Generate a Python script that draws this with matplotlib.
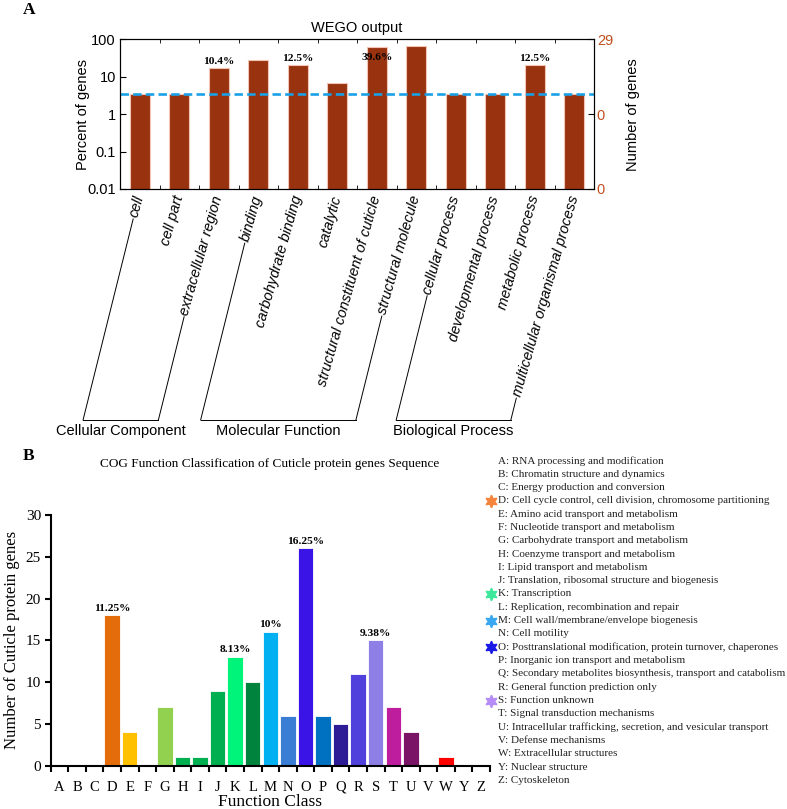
import numpy as np
import matplotlib
matplotlib.use("Agg")
import matplotlib.pyplot as plt
from matplotlib.lines import Line2D
from matplotlib.ticker import NullLocator

SANS = ['Liberation Sans', 'DejaVu Sans']
SERIF = ['Liberation Serif', 'DejaVu Serif']

# ---- panel A: WEGO output ----
go_terms = ['cell', 'cell part', 'extracellular region', 'binding',
            'carbohydrate binding', 'catalytic',
            'structural constituent of cuticle', 'structural molecule',
            'cellular process', 'developmental process', 'metabolic process',
            'multicellular organismal process']
go_counts = [1, 1, 5, 8, 6, 2, 18, 19, 1, 1, 6, 1]
go_total = 29
go_groups = [('Cellular Component', 0, 2),
             ('Molecular Function', 3, 7),
             ('Biological Process', 8, 11)]
go_notes = {2: '10.4%', 4: '12.5%', 6: '39.6%', 10: '12.5%'}

# ---- panel B: COG classes ----
cog_classes = list('ABCDEFGHIJKLMNOPQRSTUVWYZ')
cog_counts = [0, 0, 0, 18, 4, 0, 7, 1, 1, 9, 13, 10, 16, 6, 26, 6, 5, 11, 15,
              7, 4, 0, 1, 0, 0]
cog_colors = ['#C00000', '#FF0000', '#FFC000', '#E46C0A', '#FFC000', '#92D050',
              '#92D050', '#00B050', '#00B050', '#00B050', '#00F47A', '#00843D',
              '#00B0F0', '#3A7DD4', '#3A14E6', '#0070C0', '#2E1C96', '#5040DC',
              '#8C80E6', '#BE1E9E', '#7A1466', '#7030A0', '#FF0000', '#FF0000',
              '#FF0000']
cog_notes = {'D': '11.25%', 'K': '8.13%', 'M': '10%', 'O': '16.25%', 'S': '9.38%'}
cog_desc = [
    'A: RNA processing and modification',
    'B: Chromatin structure and dynamics',
    'C: Energy production and conversion',
    'D: Cell cycle control, cell division, chromosome partitioning',
    'E: Amino acid transport and metabolism',
    'F: Nucleotide transport and metabolism',
    'G: Carbohydrate transport and metabolism',
    'H: Coenzyme transport and metabolism',
    'I: Lipid transport and metabolism',
    'J: Translation, ribosomal structure and biogenesis',
    'K: Transcription',
    'L: Replication, recombination and repair',
    'M: Cell wall/membrane/envelope biogenesis',
    'N: Cell motility',
    'O: Posttranslational modification, protein turnover, chaperones',
    'P: Inorganic ion transport and metabolism',
    'Q: Secondary metabolites biosynthesis, transport and catabolism',
    'R: General function prediction only',
    'S: Function unknown',
    'T: Signal transduction mechanisms',
    'U: Intracellular trafficking, secretion, and vesicular transport',
    'V: Defense mechanisms',
    'W: Extracellular structures',
    'Y: Nuclear structure',
    'Z: Cytoskeleton',
]
cog_stars = {'D': '#F5843C', 'K': '#3DE89A', 'M': '#3AA8F0', 'O': '#1A1AE6',
             'S': '#B58CF5'}

ROT = 74       # tick label angle
LINE_ROT = 76  # angle of the bracket leader lines


def draw_wego(fig):
    ax = fig.add_axes([0.1525, 0.7664, 0.6023, 0.185])
    x = np.arange(len(go_terms))
    pct = [100.0 * c / go_total for c in go_counts]
    ax.bar(x, pct, width=0.5, color='#99330F', edgecolor='#F2C4B4', linewidth=0.8)
    ax.axhline(100.0 / go_total, color='#1AA0E6', lw=1.9, ls=(0, (3.2, 1.6)))
    ax.set_yscale('log')
    ax.set_ylim(0.01, 100)
    ax.set_xlim(-0.5, len(go_terms) - 0.5)
    ax.set_yticks([0.01, 0.1, 1, 10, 100])
    ax.set_yticklabels(['0.01', '0.1', '1', '10', '100'], family=SANS, fontsize=10.5)
    ax.yaxis.set_minor_locator(NullLocator())
    ax.tick_params(axis='y', direction='in', length=4, pad=3)
    ax.set_xticks(x)
    ax.set_xticklabels(go_terms, rotation=ROT, ha='right', va='center',
                       rotation_mode='anchor', fontstyle='italic',
                       family=SANS, fontsize=10.5)
    ax.tick_params(axis='x', which='major', length=0, pad=5)
    ax.set_xticks(np.arange(0.5, len(go_terms) - 1, 1), minor=True)
    ax.tick_params(axis='x', which='minor', direction='in', top=True,
                   bottom=True, length=3)
    ax.set_title('WEGO output', family=SANS, fontsize=10.5, pad=5)
    ax.set_ylabel('Percent of genes', family=SANS, fontsize=10.5)
    ax.yaxis.set_label_coords(-0.064, 0.5)

    for i, txt in go_notes.items():
        off = -11 if pct[i] > 50 else 1.5
        ax.annotate(txt, (x[i], pct[i]), xytext=(0, off), textcoords='offset points',
                    ha='center', va='bottom', family=SERIF, fontweight='bold',
                    fontsize=8.2)

    axr = ax.twinx()
    axr.set_yscale('log')
    axr.set_ylim(0.01, 100)
    rt = [0.01, 1, 100]
    axr.set_yticks(rt)
    axr.set_yticklabels([str(int(round(go_total * p / 100.0))) for p in rt],
                        family=SANS, fontsize=10.5)
    axr.yaxis.set_minor_locator(NullLocator())
    axr.tick_params(axis='y', direction='in', length=4, pad=2, labelcolor='#C0501E')
    axr.set_ylabel('Number of genes', family=SANS, fontsize=10.5, labelpad=9)
    return ax


def draw_brackets(fig, ax):
    fig.canvas.draw()
    renderer = fig.canvas.get_renderer()
    labels = ax.get_xticklabels()
    th = np.deg2rad(ROT)
    c, s = np.cos(th), np.sin(th)
    lc, ls_ = np.cos(np.deg2rad(LINE_ROT)), np.sin(np.deg2rad(LINE_ROT))
    fw, fh = fig.bbox.width, fig.bbox.height
    yb = fh - 420
    for name, i0, i1 in go_groups:
        ends = []
        for i in (i0, i1):
            bb = labels[i].get_window_extent(renderer)
            h = (bb.height * c - bb.width * s) / (c * c - s * s)
            sx = bb.x0 + h / 2 * s - 2 * c
            sy = bb.y0 + h / 2 * c - 2 * s
            t = (sy - yb) / ls_
            ex = sx - t * lc
            fig.add_artist(Line2D([sx / fw, ex / fw], [sy / fh, yb / fh],
                                  color='black', lw=0.7, transform=fig.transFigure))
            ends.append(ex)
        fig.add_artist(Line2D([ends[0] / fw, ends[1] / fw], [yb / fh, yb / fh],
                              color='black', lw=0.7, transform=fig.transFigure))
        fig.text((ends[0] + ends[1]) / 2 / fw, (yb - 4) / fh, name, ha='center',
                 va='top', family=SANS, fontsize=10.5)


def draw_cog(fig):
    ax = fig.add_axes([0.0644, 0.0535, 0.5582, 0.3099])
    x = np.arange(len(cog_classes))
    ax.bar(x, cog_counts, width=0.88, color=cog_colors, edgecolor='white',
           linewidth=0.6, zorder=1)
    ax.set_xlim(-0.5, len(cog_classes) - 0.5)
    ax.set_ylim(0, 30)
    for sp in ['top', 'right']:
        ax.spines[sp].set_visible(False)
    for sp in ['left', 'bottom']:
        ax.spines[sp].set_linewidth(1.5)
    ax.set_yticks(range(0, 31, 5))
    ax.set_yticklabels([str(v) for v in range(0, 31, 5)], family=SERIF, fontsize=11)
    ax.tick_params(axis='y', direction='out', length=4, width=1.5, pad=3)
    ax.set_xticks(x)
    ax.set_xticklabels(cog_classes, family=SERIF, fontsize=10.5)
    ax.tick_params(axis='x', which='major', length=0, pad=11)
    ax.set_xticks(np.arange(-0.5, len(cog_classes), 1), minor=True)
    ax.tick_params(axis='x', which='minor', direction='out', length=4, width=1.5)
    ax.set_ylabel('Number of Cuticle protein genes', family=SERIF, fontsize=12,
                  labelpad=4)
    ax.set_xlabel('Function Class', family=SERIF, fontsize=12.5, labelpad=0)
    for k, txt in cog_notes.items():
        i = cog_classes.index(k)
        ax.annotate(txt, (x[i], cog_counts[i]), xytext=(0, 2),
                    textcoords='offset points', ha='center', va='bottom',
                    family=SERIF, fontweight='bold', fontsize=8.2)
    fig.text(270 / 787, 1 - 464 / 809,
             'COG Function Classification of Cuticle protein genes Sequence',
             ha='center', va='center', family=SERIF, fontsize=9.5)

    # class descriptions on the right
    for i, line in enumerate(cog_desc):
        y = 1 - (460.7 + i * 13.33) / 809
        fig.text(498 / 787, y, line, ha='left', va='center', family=SERIF,
                 fontsize=8, color='#222222')
        key = line[0]
        if key in cog_stars:
            fig.add_artist(Line2D([491 / 787], [y], marker=(6, 1, 0), ms=9,
                                  color=cog_stars[key], mec=cog_stars[key],
                                  transform=fig.transFigure))


def main():
    fig = plt.figure(figsize=(7.87, 8.09), dpi=100)
    ax = draw_wego(fig)
    draw_cog(fig)
    fig.text(29 / 787, 1 - 10 / 809, 'A', family=SERIF, fontweight='bold',
             fontsize=12.5, ha='center', va='center')
    fig.text(28.5 / 787, 1 - 455.5 / 809, 'B', family=SERIF, fontweight='bold',
             fontsize=12.5, ha='center', va='center')
    draw_brackets(fig, ax)
    fig.savefig('out.png', dpi=100)
    plt.close(fig)


if __name__ == '__main__':
    main()
